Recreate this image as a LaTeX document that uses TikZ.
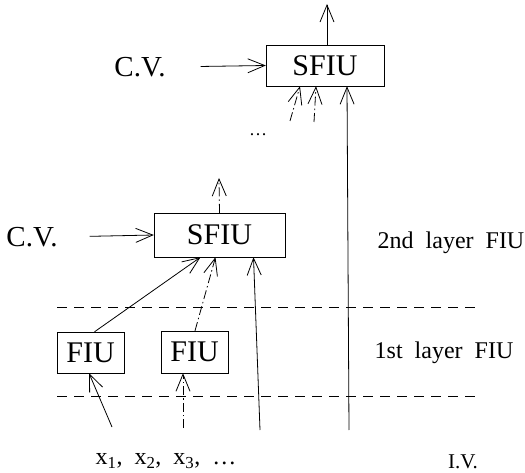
\documentclass[tikz,border=0pt]{standalone}
\usepackage{fontspec}
\setmainfont{Liberation Serif}
\usetikzlibrary{arrows.meta,calc}

\begin{document}
\begin{tikzpicture}[x=1pt, y=-1pt,
    unit/.style={draw, inner sep=0pt, font=\fontsize{30}{33}\selectfont},
    lbl/.style={inner sep=0pt, font=\fontsize{24}{27}\selectfont},
    sig/.style={-{Straight Barb[length=17pt, width=14pt]}, line width=0.8pt},
    dd/.style={dash pattern=on 9pt off 3pt on 1.5pt off 3pt},
    layer/.style={line width=0.8pt, dash pattern=on 10pt off 7pt},
    every node/.style={text=black}
  ]
    \useasboundingbox (0,0) rectangle (525,473);
    % units
    \node[unit, minimum width=118pt, minimum height=41pt] (sfiuB) at (325,65.5) {SFIU};
    \node[unit, minimum width=131pt, minimum height=44pt] (sfiuA) at (219.5,235) {SFIU};
    \node[unit, minimum width=67pt, minimum height=41pt] (fiuA) at (90.5,352.5) {FIU};
    \node[unit, minimum width=67pt, minimum height=42pt] (fiuB) at (194.5,352) {FIU};
    % labels
    \node[lbl, font=\fontsize{29}{32}\selectfont] (cvB) at (140,67) {C.V.};
    \node[lbl, font=\fontsize{29}{32}\selectfont] (cvA) at (32,237) {C.V.};
    \node[lbl] (layerB) at (451,243) {2nd\ \ layer\ \ FIU};
    \node[lbl] (layerA) at (444,353) {1st\ \ layer\ \ FIU};
    \node[lbl, font=\fontsize{21}{24}\selectfont] (iv) at (463,462) {I.V.};
    \node[lbl, font=\fontsize{24}{27}\selectfont] (xs) at (166,461)
      {x\textsubscript{1},\ \ x\textsubscript{2},\ \ x\textsubscript{3},\ \ \dots};
    \node[lbl, font=\fontsize{18}{20}\selectfont] (more) at (258,135) {\dots};
    % free ends
    \coordinate (outB) at (327,4);
    \coordinate (outA) at (219,178);
    \coordinate (inB1) at (290,121);
    \coordinate (inB2) at (314,122);
    \coordinate (ivB) at (349,430);
    \coordinate (ivA) at (260,430);
    \coordinate (xA) at (112,427);
    \coordinate (xB) at (183,428);
    \coordinate (lineL) at (57,307);
    \coordinate (lineR) at (475,307);
    \coordinate (lineL2) at (57,396);
    \coordinate (lineR2) at (475,396);
    % layer borders
    \draw[layer] (lineL) -- (lineR);
    \draw[layer] (lineL2) -- (lineR2);
    % connectors
    \draw[sig, shorten <=35pt] (cvB.east) -- (sfiuB.west);
    \draw[sig, shorten <=32pt] (cvA.east) -- (sfiuA.west);
    \draw[sig] (sfiuB.north) ++(2,0) -- (outB);
    \draw[sig, dd] (sfiuA.north) -- (outA);
    \draw[sig, dd] (inB1) -- ($(sfiuB.south)+(-25,0)$);
    \draw[sig, dd] (inB2) -- ($(sfiuB.south)+(-9,0)$);
    \draw[sig] (ivB) -- ($(sfiuB.south)+(22,0)$);
    \draw[sig] ($(fiuA.north)+(4,0)$) -- ($(sfiuA.south)+(-19,0)$);
    \draw[sig, dd] ($(fiuB.north)+(0.5,0)$) -- ($(sfiuA.south)+(-4,0)$);
    \draw[sig] (ivA) -- ($(sfiuA.south)+(34,0)$);
    \draw[sig] (xA) -- ($(fiuA.south)+(-1.5,0)$);
    \draw[sig, dd] (xB) -- ($(fiuB.south)+(-11.5,0)$);
\end{tikzpicture}
\end{document}
